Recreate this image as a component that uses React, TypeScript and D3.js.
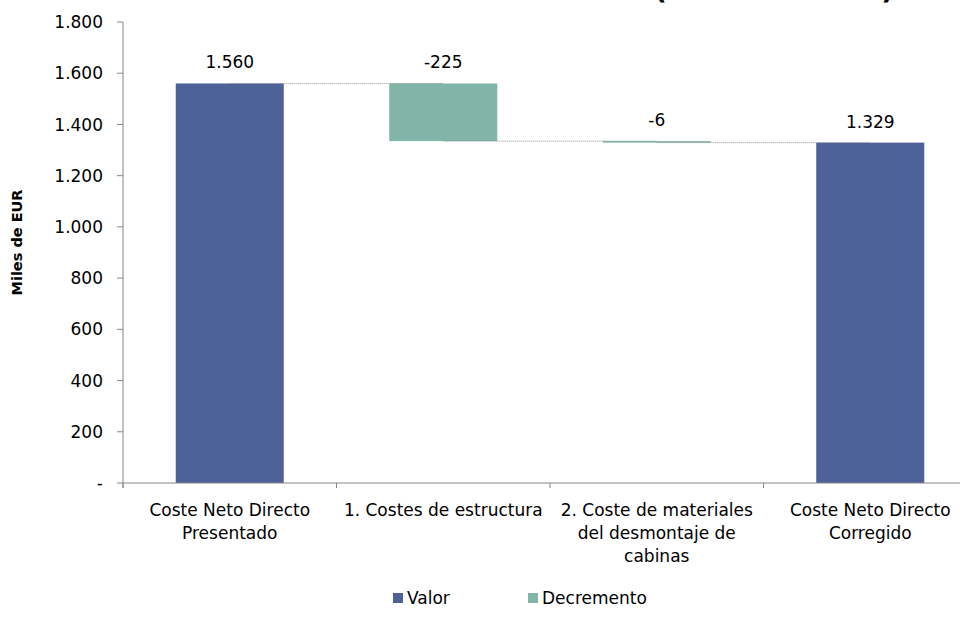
import React from 'react';
import * as d3 from 'd3';

// categories and values (miles de EUR)
const categorias = ['Coste Neto Directo Presentado', '1. Costes de estructura', '2. Coste de materiales del desmontaje de cabinas', 'Coste Neto Directo Corregido'];
const etiquetasX = [['Coste Neto Directo', 'Presentado'], ['1. Costes de estructura'], ['2. Coste de materiales', 'del desmontaje de', 'cabinas'], ['Coste Neto Directo', 'Corregido']];
const valores = [1560, -225, -6, 1329];
const tipos = ['total', 'delta', 'delta', 'total'];
const yTicks = [0, 200, 400, 600, 800, 1000, 1200, 1400, 1600, 1800];
const leyenda = ['Valor', 'Decremento'];

const colores: Record<string, string> = { total: '#4F6199', delta: '#80B5A8' };
const FONT = '"DejaVu Sans", sans-serif';

// spanish number format, plain hyphen for negatives
const es = d3.formatLocale({ decimal: ',', thousands: '.', grouping: [3], currency: ['', ' €'], minus: '-' });
const fmt = (v: number) => (v === 0 ? '-' : es.format(',d')(v));

const App: React.FC = () => {
  const width = 960;
  const height = 633;

  const x = d3.scaleBand().domain(categorias).range([123, 977]).paddingInner(0.494).paddingOuter(0.247);
  const y = d3.scaleLinear().domain([0, 1800]).range([483, 22]);

  // build waterfall steps
  let acum = 0;
  const barras = categorias.map((c, i) => {
    let y0: number, y1: number;
    if (tipos[i] === 'total') {
      y0 = 0;
      y1 = valores[i];
      acum = valores[i];
    } else {
      y0 = acum;
      y1 = acum + valores[i];
      acum = y1;
    }
    return { c, y0, y1, nivel: acum, v: valores[i], tipo: tipos[i] };
  });

  const step = x.step();
  const bordes = d3.range(categorias.length + 1).map((i) => 123 + i * step);

  return (
    <svg width={width} height={height} style={{ position: 'absolute', left: 0, top: 0, background: '#fff' }} fontFamily={FONT}>
      {/* cropped title */}
      <text x={654} y={-1} fontSize={28} fontWeight="bold" textLength={240} fill="#000">(Miles de EUR)</text>

      {/* y axis */}
      <line x1={123} x2={123} y1={y(1800)} y2={y(0) + 5} stroke="#868686" />
      {yTicks.map((t) => (
        <g key={t}>
          <line x1={117} x2={123} y1={y(t)} y2={y(t)} stroke="#868686" />
          <text x={103} y={y(t)} dy="0.36em" textAnchor="end" fontSize={17} fill="#000">{fmt(t)}</text>
        </g>
      ))}
      <text transform={`translate(22,${(y(0) + y(1800)) / 2 - 10}) rotate(-90)`} textAnchor="middle" fontSize={14.5} fontWeight="bold">Miles de EUR</text>

      {/* bars */}
      {barras.map((b) => (
        <rect key={b.c} x={x(b.c)} width={x.bandwidth()} y={y(Math.max(b.y0, b.y1))}
          height={Math.max(1.5, Math.abs(y(b.y0) - y(b.y1)))} fill={colores[b.tipo]} />
      ))}

      {/* connectors */}
      {barras.slice(0, -1).map((b, i) => (
        <line key={'c' + i} x1={x(b.c)! + x.bandwidth() / 2} x2={x(categorias[i + 1])! + x.bandwidth() / 2}
          y1={y(b.nivel)} y2={y(b.nivel)} stroke="#7f7f7f" strokeWidth={0.8} strokeDasharray="1,1" />
      ))}

      {/* value labels */}
      {barras.map((b) => (
        <text key={'l' + b.c} x={x(b.c)! + x.bandwidth() / 2} y={y(Math.max(b.y0, b.y1)) - 15}
          textAnchor="middle" fontSize={17} fill="#000">{fmt(b.v)}</text>
      ))}

      {/* x axis */}
      <line x1={123} x2={977} y1={y(0)} y2={y(0)} stroke="#868686" />
      {bordes.map((bx, i) => (
        <line key={'t' + i} x1={bx} x2={bx} y1={y(0)} y2={y(0) + 5} stroke="#868686" />
      ))}
      {categorias.map((c, i) => (
        <text key={'x' + c} x={x(c)! + x.bandwidth() / 2} y={516} textAnchor="middle" fontSize={17} fill="#000">
          {etiquetasX[i].map((l, j) => (
            <tspan key={j} x={x(c)! + x.bandwidth() / 2} dy={j === 0 ? 0 : 23}>{l}</tspan>
          ))}
        </text>
      ))}

      {/* legend */}
      {leyenda.map((l, i) => (
        <g key={l} transform={`translate(${393 + i * 135},593)`}>
          <rect width={10} height={10} fill={i === 0 ? colores.total : colores.delta} />
          <text x={14} y={11} fontSize={17} fill="#000">{l}</text>
        </g>
      ))}
    </svg>
  );
};

export default App;
